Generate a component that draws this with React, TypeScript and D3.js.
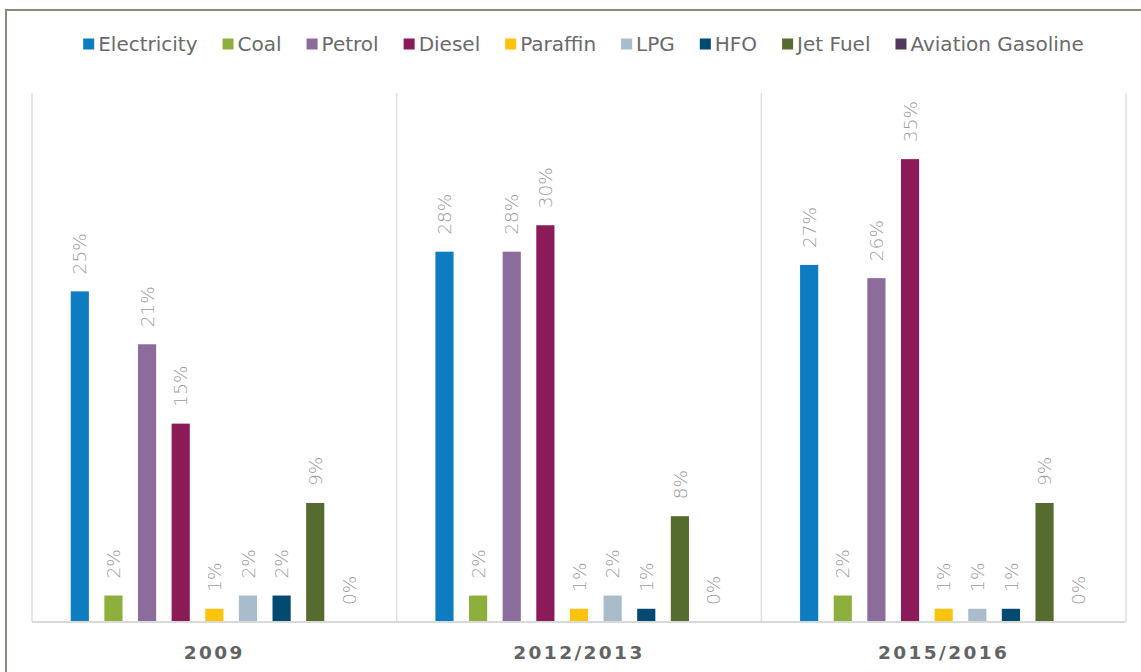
import React, { useEffect, useRef } from "react";
import * as d3 from "d3";

const periods = ["2009", "2012/2013", "2015/2016"];
const fuels = [
  "Electricity",
  "Coal",
  "Petrol",
  "Diesel",
  "Paraffin",
  "LPG",
  "HFO",
  "Jet Fuel",
  "Aviation Gasoline",
];
const fuelColors = [
  "#0E7CC0",
  "#8DAF3C",
  "#8C6C9A",
  "#8B1B58",
  "#FEC30D",
  "#A8BCCB",
  "#034A70",
  "#566B2E",
  "#51395E",
];
const share2009 = [25, 2, 21, 15, 1, 2, 2, 9, 0];
const share2012 = [28, 2, 28, 30, 1, 2, 1, 8, 0];
const share2015 = [27, 2, 26, 35, 1, 1, 1, 9, 0];
const shares = [share2009, share2012, share2015];

const W = 1141;
const H = 672;
const FONT = "'DejaVu Sans', 'Noto Sans', sans-serif";

export default function App() {
  const ref = useRef<SVGSVGElement | null>(null);

  useEffect(() => {
    const svg = d3.select(ref.current);
    svg.selectAll("*").remove();

    const plot = { left: 32, right: 1126, top: 93, bottom: 622 };

    // outer frame
    svg
      .append("rect")
      .attr("x", 6)
      .attr("y", 10)
      .attr("width", W + 20)
      .attr("height", H + 20)
      .attr("fill", "#fff")
      .attr("stroke", "#8E8877")
      .attr("stroke-width", 2);

    const x0 = d3
      .scaleBand<string>()
      .domain(periods)
      .range([plot.left, plot.right])
      .padding(0);
    const x1 = d3
      .scaleBand<string>()
      .domain(fuels)
      .range([31, x0.bandwidth() - 31])
      .paddingInner(0.46)
      .paddingOuter(0.23);
    const y = d3.scaleLinear().domain([0, 40]).range([plot.bottom, plot.top]);

    // group separators
    const seps = [...periods.map((p) => x0(p) as number), plot.right];
    svg
      .append("g")
      .selectAll("line")
      .data(seps)
      .join("line")
      .attr("x1", (d) => d)
      .attr("x2", (d) => d)
      .attr("y1", plot.top)
      .attr("y2", plot.bottom)
      .attr("stroke", "#E0E0E0")
      .attr("stroke-width", 1.5);

    // bars and value labels
    periods.forEach((p, gi) => {
      const g = svg.append("g").attr("transform", `translate(${x0(p)},0)`);
      const rows = fuels.map((f, i) => ({ f, v: shares[gi][i], c: fuelColors[i] }));
      g.selectAll("rect")
        .data(rows)
        .join("rect")
        .attr("x", (d) => x1(d.f) as number)
        .attr("width", x1.bandwidth())
        .attr("y", (d) => y(d.v))
        .attr("height", (d) => y(0) - y(d.v))
        .attr("fill", (d) => d.c);
      g.selectAll("text")
        .data(rows)
        .join("text")
        .attr(
          "transform",
          (d) =>
            `translate(${(x1(d.f) as number) + x1.bandwidth() / 2},${y(d.v) - 17}) rotate(-90)`
        )
        .attr("dy", "0.36em")
        .attr("text-anchor", "start")
        .attr("font-family", FONT)
        .attr("font-size", 18.5)
        .attr("font-weight", 300)
        .attr("fill", "#9C9C9C")
        .text((d) => `${d.v}%`);
    });

    // baseline
    svg
      .append("line")
      .attr("x1", plot.left)
      .attr("x2", plot.right)
      .attr("y1", plot.bottom)
      .attr("y2", plot.bottom)
      .attr("stroke", "#D9D9D9")
      .attr("stroke-width", 2);

    // category axis labels
    svg
      .append("g")
      .selectAll("text")
      .data(periods)
      .join("text")
      .attr("x", (d) => (x0(d) as number) + x0.bandwidth() / 2)
      .attr("y", 659)
      .attr("text-anchor", "middle")
      .attr("font-family", FONT)
      .attr("font-size", 18.5)
      .attr("font-weight", "bold")
      .attr("letter-spacing", 2.4)
      .attr("fill", "#636363")
      .text((d) => d);

    // legend
    const legend = svg.append("g");
    const items = legend
      .selectAll("g")
      .data(fuels)
      .join("g");
    items
      .append("rect")
      .attr("width", 11)
      .attr("height", 11)
      .attr("y", -5.5)
      .attr("fill", (_d, i) => fuelColors[i]);
    items
      .append("text")
      .attr("x", 15)
      .attr("dy", "0.35em")
      .attr("font-family", FONT)
      .attr("font-size", 20)
      .attr("fill", "#6A6A6A")
      .text((d) => d);
    let cursor = 0;
    const widths: number[] = [];
    items.each(function () {
      const t = d3.select(this).select("text").node() as SVGTextElement;
      widths.push(15 + t.getComputedTextLength());
    });
    const gap = 25;
    const total = d3.sum(widths) + gap * (widths.length - 1);
    const start = 583.5 - total / 2;
    items.attr("transform", (_d, i) => {
      const tx = start + cursor;
      cursor += widths[i] + gap;
      return `translate(${tx},44)`;
    });
  }, []);

  return (
    <svg
      ref={ref}
      width={W}
      height={H}
      style={{ position: "absolute", left: 0, top: 0, background: "#fff" }}
    />
  );
}
